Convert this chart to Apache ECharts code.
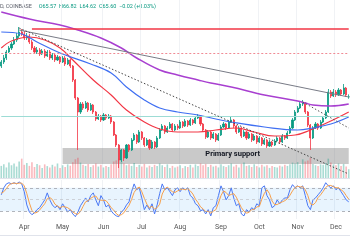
<!DOCTYPE html>
<html>
<head>
<meta charset="utf-8">
<script src="https://cdn.jsdelivr.net/npm/echarts@6/dist/echarts.min.js"></script>
<style>html,body{margin:0;padding:0;background:#fff}#chart{width:350px;height:250px}</style>
</head>
<body>
<div id="chart"></div>
<script>
// 2-day candles, from mid March to mid December
var startDate = '2023-03-14';
var candleCount = 137;
var monthNames = ['Jan','Feb','Mar','Apr','May','Jun','Jul','Aug','Sep','Oct','Nov','Dec'];

// [open, close, low, high]
var candles = [
 [81,83,80,84],[83,85,82,86.5],[85,88,84,89],[88,90,87.5,91],[90,92,89,93],
 [92,94,91.5,95.5],[94,96,93,97.5],[96,98,95,100.5],[98,97,96,99.5],[97,95,94,98.5],
 [95,96,94,97.5],[96,93,92,97],[93,90,89,94],[90,88,87,91],[88,89,87,90.5],
 [89,87,86,90],[87,88.5,86.5,89.5],[88.5,86,85,89.5],[86,88,85.5,89],[88,85,84,89],
 [85,86.5,84,87.5],[86.5,84,83,87],[84,85.5,83.5,86.5],[85.5,83,82,86],[83,85,82.5,86],
 [85,82,81,86],[82,84,81.5,85],[84,81,80,84.5],[81,74,73,81.5],[74,65,64,74.5],
 [65,58,39,65.5],[58,62,57,63],[62,60,59,63],[60,62.5,59.5,63.5],[62.5,59,58,63],
 [59,61.5,58.5,62.5],[61.5,58,57,62],[58,54.5,53.5,58.5],[54.5,56,54,57],[56,54,53,56.5],
 [54,56.5,53.5,57.5],[56.5,55,54,57],[55,56,54.5,57],[56,53,52,56.5],[53,46.5,46,53.5],
 [46.5,41.5,40.5,47],[41.5,34,30,42],[34,39,33,39.5],[39,35,33.5,39.5],[35,41.5,34.5,42],
 [41.5,39,38,42],[39,44,38.5,45],[44,46.5,43.5,47.5],[46.5,43,42,47],[43,48,42.5,49],
 [48,45,44,48.5],[45,41.5,40.5,45.5],[41.5,44,41,45],[44,40,39,44.5],[40,43,39.5,44],
 [43,40.5,39.5,43.5],[40.5,45,40,46],[45,49,44.5,50],[49,51,48.5,52],[51,48,47,51.5],
 [48,50,47.5,51],[50,52,49.5,53],[52,49,48,52.5],[49,51,48.5,52],[51,50,49,52],
 [50,53,49.5,54],[53,51,50,53.5],[51,53.5,50.5,54.5],[53.5,51.5,50.5,54],[51.5,54,51,55],
 [54,52.5,51.5,54.5],[52.5,55,52,56],[55,56,54.5,57],[56,52,51,56.5],[52,49,48,52.5],
 [49,45.5,44.5,49.5],[45.5,48,45,49],[48,45,44,48.5],[45,47,44.5,48],[47,44,43,47.5],
 [44,46.5,43.5,47.5],[46.5,50.5,46,51.5],[50.5,52,50,53],[52,50,49,52.5],[50,53,49.5,54],
 [53,54,52.5,55.5],[54,51,50,54.5],[51,48,47,51.5],[48,50,47.5,51],[50,46,45,50.5],
 [46,48,45.5,49],[48,45,44,48.5],[45,47,44.5,48],[47,44,43,47.5],[44,46,43.5,47],
 [46,43,42,46.5],[43,45,42.5,46],[45,42,41,45.5],[42,44,41.5,45],[44,41,40,44.5],
 [41,43,40.5,44],[43,41.5,40.5,43.5],[41.5,43.5,41,44.5],[43.5,45,43,46],[45,43,42,45.5],
 [43,46,42.5,47],[46,45,44,46.5],[45,47.5,44.5,48.5],[47.5,50,47,51],[50,54,49.5,55],
 [54,58,53.5,59],[58,60,57.5,61],[60,62,59.5,63],[62,62.5,61,64],[62.5,58,57,63],
 [58,51.5,50.5,58.5],[51.5,45,39,52],[45,50,44.5,51],[50,52,49.5,53],[52,50,49,52.5],
 [50,53,49.5,54],[53,55,52.5,56],[55,58,54.5,59],[58,68,57.5,69.5],[68,66,65,69],
 [66,68,65.5,69.5],[68,66.5,65.5,69],[66.5,69,66,70],[69,67,66,69.5],[67,70,66.5,72],
 [70,66.5,65.5,70.5],[65.57,65.6,64.62,66.82]
];

var volumes = [
 55,62,48,70,58,66,52,75,88,60, 68,55,72,50,64,58,46,62,54,48,
 60,52,66,45,58,50,62,56,72,85, 92,70,60,55,64,50,58,66,52,60,
 48,55,50,62,75,80,90,72,66,58, 62,55,68,50,60,52,64,48,56,50,
 60,54,66,58,50,62,46,55,48,52, 58,45,54,50,60,48,62,55,66,58,
 64,50,60,52,56,48,62,54,50,58, 66,52,60,48,64,70,55,58,50,62,
 54,48,60,52,58,46,55,50,48,56, 52,60,55,62,70,66,72,60,85,75,
 80,92,64,58,55,62,60,68,88,70, 62,58,66,55,64,52,40
];

var stochK = [
 62,80,90,93,90,93,90,95,90,70, 36,18,11,16,24,29,39,49,67,49,
 36,29,34,24,39,29,18,24,13,6, 18,34,44,54,44,60,67,49,34,60,
 49,31,36,21,13,8,6,18,24,36, 44,70,90,75,80,54,24,36,24,39,
 13,36,65,90,75,80,70,60,75,80, 70,80,75,80,60,54,39,34,21,24,
 13,24,8,29,34,60,85,70,49,60, 80,54,34,39,13,8,24,18,29,24,
 39,34,80,85,60,49,29,34,49,39, 49,54,54,75,88,80,85,80,85,60,
 34,24,49,54,62,70,80,93,85,80, 85,75,80,70,60,49,44
];

var stochD = [
 66,70,78,87,91,92,91,92,92,85, 65,41,22,15,17,23,31,39,52,55,
 50,38,33,29,32,31,29,24,18,14, 12,19,32,44,47,53,57,59,50,48,
 48,47,39,29,23,14,9,11,16,26, 35,50,68,78,82,70,53,38,28,33,
 25,29,38,64,77,82,75,70,68,72, 75,77,75,78,72,64,51,42,31,26,
 19,20,15,20,24,41,60,72,68,60, 63,65,56,42,29,20,15,17,24,24,
 31,32,51,66,75,65,46,37,37,41, 44,47,52,61,72,81,84,82,83,75,
 60,39,36,42,55,62,71,81,86,86, 83,80,80,75,70,60,51
];

var maFast = [
 ['2023-03-14',90],['2023-03-22',93.5],['2023-04-05',95.5],['2023-04-17',94],['2023-04-29',90],
 ['2023-05-09',84],['2023-05-25',74],['2023-06-08',66.5],['2023-06-20',59],['2023-07-04',53],
 ['2023-07-16',49.5],['2023-07-30',48],['2023-08-15',48],['2023-08-29',49],['2023-09-14',50],
 ['2023-09-28',48],['2023-10-14',46],['2023-10-30',46.5],['2023-11-11',49],['2023-11-27',53.5],
 ['2023-12-11',58]
];
var maMid = [
 ['2023-03-14',98],['2023-03-30',97],['2023-04-11',93],['2023-04-29',87.5],['2023-05-23',82],
 ['2023-06-08',77.5],['2023-06-20',70.5],['2023-07-04',64],['2023-07-16',60],['2023-07-30',58],
 ['2023-08-15',56.5],['2023-08-29',54.5],['2023-09-10',53],['2023-10-06',50.5],['2023-11-01',49],
 ['2023-11-13',50],['2023-11-27',52],['2023-12-11',55.5]
];
var maSlow = [
 ['2023-03-14',108],['2023-04-05',104.5],['2023-04-29',101.5],['2023-05-13',99],['2023-05-31',95],
 ['2023-06-16',90],['2023-06-28',85],['2023-07-16',79],['2023-07-30',76.5],['2023-08-15',74],
 ['2023-08-25',72.5],['2023-09-10',70.5],['2023-10-06',66.5],['2023-11-01',63.5],['2023-11-07',62.5],
 ['2023-11-13',61.5],['2023-11-27',61],['2023-12-11',62]
];

// drawn levels and trendlines: [fromDate, fromPrice, toDate, toPrice]
var resistanceLevel = ['2023-04-07', 99.5, '2023-12-11', 99.5];
var dottedLevel = 87.5;
var tealLevel = 55.75;
var grayTrend = ['2023-03-28', 99, '2023-12-11', 65.5];
var dottedTrend = ['2023-03-28', 100, '2023-12-11', 27];
var novTrend = ['2023-11-05', 63, '2023-12-11', 50];
var supportZone = ['2023-05-01', 40, '2023-12-11', 32];

var dates = [];
var t0 = Date.parse(startDate + 'T00:00:00Z');
for (var i = 0; i < candleCount; i++) {
  dates.push(new Date(t0 + i * 2 * 86400000).toISOString().slice(0, 10));
}
function isMonthStart(idx, val) { return Number(val.slice(8, 10)) <= 2; }

var upColor = '#089981', downColor = '#f23645';
var volData = volumes.map(function (v, i) {
  var up = candles[i][1] >= candles[i][0];
  return { value: v, itemStyle: { color: up ? 'rgba(8,153,129,0.35)' : 'rgba(242,54,69,0.35)' } };
});

function seg(s, style) {
  return [{ coord: [s[0], s[1]], lineStyle: style }, { coord: [s[2], s[3]] }];
}

var chart = echarts.init(document.getElementById('chart'));
var option = {
  animation: false,
  backgroundColor: '#ffffff',
  grid: [
    { left: 0, right: 0, top: 0, height: 178 },
    { left: 0, right: 0, top: 156, height: 22 },
    { left: 0, right: 0, top: 180, height: 39 }
  ],
  xAxis: [0, 1, 2].map(function (g) {
    return {
      type: 'category', gridIndex: g, data: dates, boundaryGap: true,
      axisLine: { show: false }, axisTick: { show: false },
      axisLabel: {
        show: g === 2, interval: isMonthStart, margin: 5, fontSize: 7, color: '#555',
        fontFamily: 'Roboto',
        formatter: function (v) { return monthNames[Number(v.slice(5, 7)) - 1]; }
      },
      splitLine: { show: g !== 1, interval: isMonthStart, lineStyle: { color: '#f0f2f5', width: 1 } }
    };
  }),
  yAxis: [
    { gridIndex: 0, min: 25, max: 114, show: false, splitLine: { show: false } },
    { gridIndex: 1, min: 0, max: 100, show: false },
    { gridIndex: 2, min: 0, max: 100, show: false }
  ],
  graphic: [
    { type: 'line', shape: { x1: 0, y1: 178.5, x2: 350, y2: 178.5 }, style: { stroke: '#e0e3eb', lineWidth: 1 } },
    { type: 'line', shape: { x1: 0, y1: 235.5, x2: 350, y2: 235.5 }, style: { stroke: '#e0e3eb', lineWidth: 1 } },
    {
      type: 'text', left: 0, top: 1,
      style: {
        text: '{a|D, COINBASE}  {b|O65.57  H66.82  L64.62  C65.60  −0.02 (+0.03%)}',
        rich: {
          a: { fill: '#5d606b', fontSize: 5.5, fontFamily: 'Roboto' },
          b: { fill: '#089981', fontSize: 5.5, fontFamily: 'Roboto' }
        }
      }
    }
  ],
  series: [
    {
      type: 'bar', xAxisIndex: 1, yAxisIndex: 1, data: volData,
      barWidth: 1.6, z: 1, silent: true
    },
    {
      type: 'line', data: [], z: 2, silent: true,
      markArea: {
        silent: true,
        itemStyle: { color: 'rgba(120,120,120,0.4)' },
        label: {
          show: true, position: 'insideTop', offset: [27, -3],
          formatter: 'Primary support', fontSize: 7.5, fontWeight: 'bold', color: '#131722',
          fontFamily: 'Roboto'
        },
        data: [[{ coord: [supportZone[0], supportZone[1]] }, { coord: [supportZone[2], supportZone[3]] }]]
      }
    },
    {
      type: 'candlestick', data: candles, barWidth: 1.6, z: 3,
      itemStyle: { color: upColor, color0: downColor, borderColor: upColor, borderColor0: downColor, borderWidth: 0.8 }
    },
    { type: 'line', data: maFast, smooth: 0.4, symbol: 'none', z: 4, lineStyle: { color: '#f23645', width: 1.2 } },
    { type: 'line', data: maMid, smooth: 0.4, symbol: 'none', z: 4, lineStyle: { color: '#3f6ff2', width: 1.2 } },
    { type: 'line', data: maSlow, smooth: 0.4, symbol: 'none', z: 4, lineStyle: { color: '#a83fd0', width: 1.5 } },
    {
      type: 'line', data: [], z: 5, silent: true,
      markLine: {
        silent: true, symbol: 'none', label: { show: false },
        data: [
          seg(resistanceLevel, { color: '#f23645', width: 1.5, type: 'solid' }),
          [{ coord: [dates[0], dottedLevel], lineStyle: { color: '#f08a94', width: 1, type: [2, 2] } }, { coord: [dates[candleCount - 1], dottedLevel] }],
          [{ coord: [dates[0], tealLevel], lineStyle: { color: '#9ddcd5', width: 1, type: 'solid' } }, { coord: [dates[candleCount - 1], tealLevel] }],
          seg(grayTrend, { color: '#787b86', width: 1, type: 'solid' }),
          seg(dottedTrend, { color: '#444', width: 1, type: [1.5, 2] }),
          seg(novTrend, { color: '#555', width: 1, type: [1.5, 2] })
        ]
      }
    },
    {
      type: 'line', xAxisIndex: 2, yAxisIndex: 2, data: stochK, symbol: 'none', z: 3,
      lineStyle: { color: '#4a78f5', width: 1 },
      markArea: {
        silent: true, itemStyle: { color: 'rgba(33,150,243,0.1)' },
        data: [[{ yAxis: 20 }, { yAxis: 80 }]]
      },
      markLine: {
        silent: true, symbol: 'none', label: { show: false },
        lineStyle: { color: '#a0a3ab', type: [3, 3], width: 0.8 },
        data: [{ yAxis: 80 }, { yAxis: 50, lineStyle: { color: '#c5c7cd' } }, { yAxis: 20 }]
      }
    },
    {
      type: 'line', xAxisIndex: 2, yAxisIndex: 2, data: stochD, symbol: 'none', z: 3,
      lineStyle: { color: '#f7a04b', width: 1 }
    }
  ]
};
chart.setOption(option);
window.onresize = function () { chart.resize(); };
</script>
</body>
</html>
